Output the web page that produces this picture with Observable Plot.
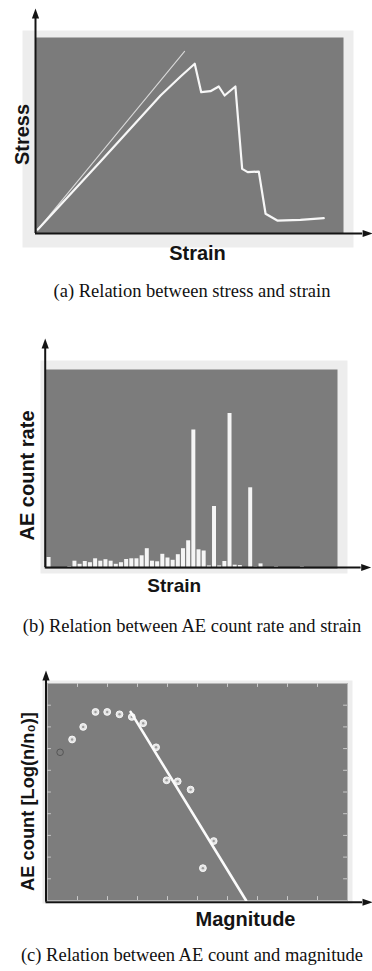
<!DOCTYPE html>
<html><head><meta charset="utf-8">
<script src="https://cdn.jsdelivr.net/npm/d3@7"></script>
<script src="https://cdn.jsdelivr.net/npm/@observablehq/plot@0.6"></script>
<style>
html,body{margin:0;padding:0;background:#fff;overflow:hidden}
#page{position:relative;width:372px;height:971px;overflow:hidden}
.panel{position:absolute;left:0}
.panel svg{display:block}
.cap{position:absolute;left:0;width:384px;text-align:center;font-family:"Liberation Serif","Times New Roman",serif;font-size:18.5px;line-height:18.5px;color:#111;white-space:nowrap}
</style></head><body><div id="page"></div>
<script>
// ---------- data (a) stress vs strain ----------
const strainA = [0.75, 21.1, 40.6, 47.1, 51.7, 53.8, 56.8, 59.5, 61.4, 64.9, 67.1, 68.9, 72.5, 74.7, 78.5, 86.0, 90.4, 93.6];
const stressA = [2.0, 36.7, 70.4, 80.1, 86.6, 72.1, 72.6, 75.0, 70.4, 75.0, 33.0, 31.3, 31.6, 10.1, 6.6, 7.0, 7.5, 7.8];
const elasticStrain = [0.75, 48.4];
const elasticStress = [2.0, 92.9];

// ---------- data (b) AE count rate per strain bin ----------
const aeCountRate = [10, 0, 0, 0, 1, 6.3, 3.2, 6, 4.8, 8.7, 6.3, 7.8, 6.3, 3.2, 4.8, 8, 8.7, 8.7, 11.7, 18.8,
  6.3, 5.7, 13.2, 9.5, 7.2, 12.8, 18.8, 26.7, 137.5, 17.7, 16.5, 1.6, 61, 1.6, 6, 154, 2.3, 2, 0, 79.7,
  0.6, 3.6, 0, 0, 0.8, 0, 0, 0, 0, 0.8, 0, 0, 0, 0, 0, 0];

// ---------- data (c) AE count vs magnitude ----------
const magnitude = [0.42, 0.82, 1.19, 1.6, 1.99, 2.4, 2.81, 3.19, 3.62, 3.97, 4.34, 4.77, 5.18, 5.54];
const logCount  = [6.83, 7.42, 8.0, 8.69, 8.69, 8.58, 8.46, 8.17, 7.06, 5.54, 5.49, 5.11, 1.49, 2.74];
const fitMagnitude = [2.77, 6.62];
const fitLogCount = [8.69, 0];
const magTicks = [1, 2, 3, 4, 5, 6, 7, 8, 9];
const countTicks = [1, 2, 3, 4, 5, 6, 7, 8, 9];

// ---------- text ----------
const titlesA = {x: "Strain", y: "Stress"};
const titlesB = {x: "Strain", y: "AE count rate"};
const titlesC = {x: "Magnitude", y: "AE count [Log(n/n\u2080)]"};
const captions = [
  "(a) Relation between stress and strain",
  "(b) Relation between AE count rate and strain",
  "(c) Relation between AE count and magnitude"
];

// ---------- styling helpers ----------
const SANS = "Liberation Sans, Arial, sans-serif";
const INK = "#141414";
const headUp = {draw(c) { c.moveTo(0, -10); c.lineTo(3.6, 0); c.lineTo(-3.6, 0); c.closePath(); }};
const headRight = {draw(c) { c.moveTo(10, 0); c.lineTo(0, -3.6); c.lineTo(0, 3.6); c.closePath(); }};

function axesMarks(x0, y0, xEnd, yEnd) {
  return [
    Plot.ruleX([x0], {y1: y0, y2: yEnd, stroke: INK, strokeWidth: 2}),
    Plot.ruleY([y0], {x1: x0, x2: xEnd, stroke: INK, strokeWidth: 2}),
    Plot.dot([0], {x: () => x0, y: () => yEnd, symbol: headUp, fill: INK}),
    Plot.dot([0], {x: () => xEnd, y: () => y0, symbol: headRight, fill: INK})
  ];
}
function yTitle(t, dx, dy, size) {
  return Plot.text([t], {text: d => d, frameAnchor: "left", rotate: -90, dx, dy, textAnchor: "middle", lineAnchor: "bottom",
    fontSize: size, fontWeight: "bold", fontFamily: SANS, fill: INK});
}
function xTitle(t, dx, dy, size) {
  return Plot.text([t], {text: d => d, frameAnchor: "bottom", dx, dy, textAnchor: "middle", lineAnchor: "bottom",
    fontSize: size, fontWeight: "bold", fontFamily: SANS, fill: INK});
}

const page = document.getElementById("page");
function place(el, top) {
  const d = document.createElement("div");
  d.className = "panel"; d.style.top = top + "px";
  d.appendChild(el); page.appendChild(d);
}
function caption(text, top) {
  const d = document.createElement("div");
  d.className = "cap"; d.style.top = top + "px"; d.textContent = text;
  page.appendChild(d);
}

// ---------- panel (a) ----------
const curveA = strainA.map((x, i) => ({x, y: stressA[i]}));
const lineA = elasticStrain.map((x, i) => ({x, y: elasticStress[i]}));
place(Plot.plot({
  width: 372, height: 270,
  marginLeft: 35, marginRight: 29, marginTop: 37, marginBottom: 37,
  x: {domain: [0, 100], axis: null},
  y: {domain: [0, 100], axis: null},
  marks: [
    Plot.frame({fill: "#ededed", stroke: "none", insetLeft: -13, insetRight: -10, insetTop: -7, insetBottom: -14}),
    Plot.frame({fill: "#7b7b7b", stroke: "none"}),
    Plot.line(lineA, {x: "x", y: "y", stroke: "#d8d8d8", strokeWidth: 1.1}),
    Plot.line(curveA, {x: "x", y: "y", stroke: "#f7f7f7", strokeWidth: 2.2, strokeLinejoin: "round"}),
    ...axesMarks(0, 0, 106.2, 109.7),
    yTitle(titlesA.y, -7, -1, 20),
    xTitle(titlesA.x, 8, 26, 20)
  ]
}), 0);
caption(captions[0], 281.5);

// ---------- panel (b) ----------
const barsB = aeCountRate.map((v, k) => ({k, v}));
place(Plot.plot({
  width: 372, height: 280,
  marginLeft: 45, marginRight: 35, marginTop: 49, marginBottom: 32,
  x: {domain: [0, 56], range: [46, 335.5], axis: null},
  y: {domain: [0, 198], range: [247, 49], axis: null},
  marks: [
    Plot.frame({fill: "#ededed", stroke: "none", insetLeft: -5, insetRight: -10, insetTop: -9, insetBottom: -5}),
    Plot.frame({fill: "#7c7c7c", stroke: "none"}),
    Plot.rectY(barsB, {x1: d => d.k, x2: d => d.k + 1, y: "v", fill: "#f5f5f5", insetLeft: 0.6, insetRight: 0.6}),
    ...axesMarks(-0.25, 0, 60.87, 219),
    yTitle(titlesB.y, -12, 6.5, 20),
    xTitle(titlesB.x, -17.3, 23.7, 19)
  ]
}), 320);
caption(captions[1], 616.5);

// ---------- panel (c) ----------
const ptsC = magnitude.map((x, i) => ({x, y: logCount[i]}));
const fitC = fitMagnitude.map((x, i) => ({x, y: fitLogCount[i]}));
const TICKC = "#c9c9c9";
place(Plot.plot({
  width: 372, height: 300,
  marginLeft: 47, marginRight: 25, marginTop: 43, marginBottom: 40,
  x: {domain: [0, 10], axis: null},
  y: {domain: [0, 10], axis: null},
  marks: [
    Plot.frame({fill: "#ededed", stroke: "none", insetLeft: -5, insetRight: -5, insetTop: -3, insetBottom: -3}),
    Plot.frame({fill: "#7d7d7d", stroke: "#b5b5b5", strokeWidth: 1}),
    Plot.ruleX(magTicks, {x: d => d, y1: 0, y2: 0.18, stroke: TICKC}),
    Plot.ruleX(magTicks, {x: d => d, y1: 10, y2: 9.82, stroke: TICKC}),
    Plot.ruleY(countTicks, {y: d => d, x1: 0, x2: 0.13, stroke: TICKC}),
    Plot.ruleY(countTicks, {y: d => d, x1: 10, x2: 9.87, stroke: TICKC}),
    Plot.dot(ptsC.slice(0, 1), {x: "x", y: "y", r: 3.3, fill: "none", stroke: "#555", strokeWidth: 1}),
    Plot.dot(ptsC.slice(1), {x: "x", y: "y", r: 3.4, fill: "#e4e4e4", stroke: "#f8f8f8", strokeWidth: 1}),
    Plot.dot(ptsC.slice(1), {x: "x", y: "y", r: 1.2, fill: "#9c9c9c"}),
    Plot.line(fitC, {x: "x", y: "y", stroke: "#fbfbfb", strokeWidth: 2.6}),
    ...axesMarks(-0.05, -0.08, 10.5, 10.14),
    yTitle(titlesC.y, -14, 9.5, 18.3),
    xTitle(titlesC.x, 48, 25.7, 20)
  ]
}), 640);
caption(captions[2], 945.5);
</script></body></html>
